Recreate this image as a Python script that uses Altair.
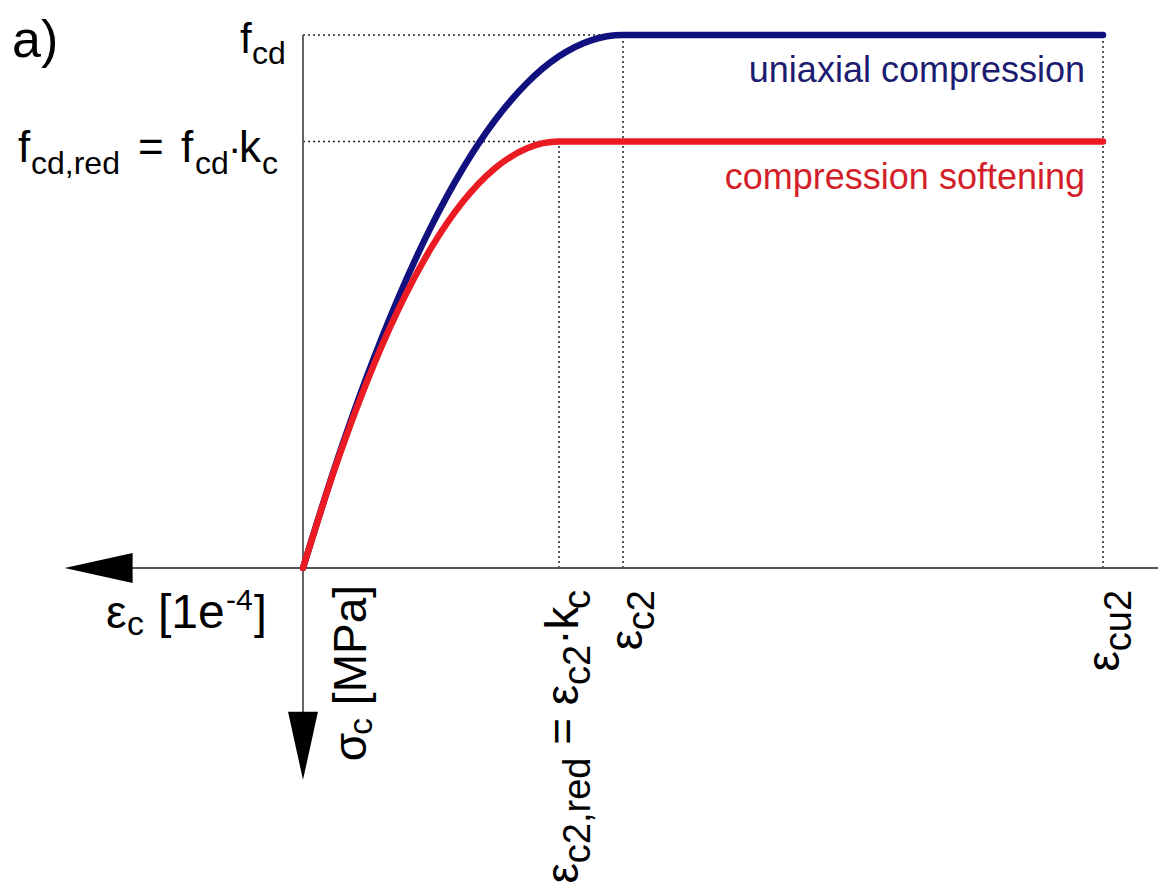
import altair as alt
import pandas as pd

# ---------------- values (schematic: strain in 1e-4, stress in MPa) ----------------
eps_c2 = 20.0
k_c = 0.8
eps_c2_red = 16.0          # = eps_c2 * k_c
eps_cu2 = 50.0
f_cd = 20.0
f_cd_red = 16.0            # = f_cd * k_c

uni_eps = [0, 2, 4, 6, 8, 10, 12, 14, 16, 18, 20, 50]
uni_sig = [0, 3.8, 7.2, 10.2, 12.8, 15.0, 16.8, 18.2, 19.2, 19.8, 20.0, 20.0]
soft_eps = [0, 2, 4, 6, 8, 10, 12, 14, 16, 50]
soft_sig = [0, 3.75, 7.0, 9.75, 12.0, 13.75, 15.0, 15.75, 16.0, 16.0]

strain_axis_tip = -14.9    # arrow tip of the (reversed) strain axis
stress_axis_tip = -7.95    # arrow tip of the (downward) stress axis

# ---------------- layout / style ----------------
BLUE = "#10107e"
BLUE_TXT = "#1c1c70"
RED = "#ea1b23"
RED_TXT = "#d31f29"
AXIS = "#555555"
FONT = "Liberation Sans"

W_PX, H_PX = 1150, 878
XS, YS = 16.0, 26.65                 # px per unit
XMIN = -295 / XS
XMAX = XMIN + W_PX / XS
YMAX = f_cd + 27 / YS
YMIN = YMAX - H_PX / YS

xs = alt.Scale(domain=[XMIN, XMAX], nice=False, zero=False)
ys = alt.Scale(domain=[YMIN, YMAX], nice=False, zero=False)

ADV = {' ': .278, '[': .278, ']': .278, '1': .556, '2': .556, '4': .556, '-': .333,
       '=': .584, '·': .278, 'a': .556, 'c': .5, 'd': .556, 'e': .556, 'f': .278,
       'k': .5, 'M': .833, 'P': .667, 'r': .333, 'u': .556, ',': .278, 'ε': .44, 'σ': .57}


def adv(t, s):
    return sum(ADV.get(ch, .55) for ch in t) * s


rows = []


def place(ax, ay, sx, sy, text, size, color="#000000", angle=0):
    rows.append(dict(x=ax + sx / XS, y=ay - sy / YS, text=text, size=size,
                     angle=angle, color=color))


def run_up(ax, ay, base_sx, top_sy, pieces, color="#000000"):
    total = sum(adv(t, s) for t, s, _ in pieces)
    y = top_sy + total
    for t, s, sh in pieces:
        lead = len(t) - len(t.lstrip())
        place(ax, ay, base_sx + sh, y - lead * ADV[' '] * s, t.strip(), s, color, 270)
        y -= adv(t, s)


# panel letter
place(0, f_cd, -291, 22, "a)", 52)
# f_cd
place(0, f_cd, -63, 18, "f", 42)
place(0, f_cd, -51, 29, "cd", 32)
# f_cd,red = f_cd·k_c
place(0, f_cd_red, -285, 20, "f", 44)
place(0, f_cd_red, -272, 32, "cd,red", 32)
place(0, f_cd_red, -165, 20, "=", 44)
place(0, f_cd_red, -122, 20, "f", 44)
place(0, f_cd_red, -108, 32, "cd", 32)
place(0, f_cd_red, -75, 20, "·", 40)
place(0, f_cd_red, -64, 20, "k", 44)
place(0, f_cd_red, -41, 32, "c", 32)
# strain axis label
place(0, 0, -197, 60, "ε", 46)
place(0, 0, -176, 67, "c", 34)
place(0, 0, -145, 60, "[1e", 48)
place(0, 0, -77, 42, "-4", 30)
place(0, 0, -49, 60, "]", 46)
# stress axis label (rotated)
run_up(0, 0, 63, 17, [("σ", 46, 0), ("c", 34, 6), (" [MPa]", 46, 0)])
# strain tick labels (rotated)
run_up(eps_c2_red, 0, 19, 22, [("ε", 46, 0), ("c2,red", 38, 12), (" = ε", 46, 0),
                               ("c2", 38, 12), ("·k", 46, 0), ("c", 38, 12)])
run_up(eps_c2, 0, 19, 22, [("ε", 46, 0), ("c2", 38, 12)])
run_up(eps_cu2, 0, 16, 22, [("ε", 46, 0), ("cu2", 38, 12)])

legend_rows = [
    dict(x=eps_cu2 - 18 / XS, y=f_cd - 47 / YS, text="uniaxial compression", color=BLUE_TXT),
    dict(x=eps_cu2 - 18 / XS, y=f_cd_red - 47 / YS, text="compression softening", color=RED_TXT),
]

# ---------------- marks ----------------
guides = pd.DataFrame([
    dict(x=0, x2=eps_c2, y=f_cd, y2=f_cd),
    dict(x=0, x2=eps_c2_red, y=f_cd_red, y2=f_cd_red),
    dict(x=eps_c2_red, x2=eps_c2_red, y=0, y2=f_cd_red),
    dict(x=eps_c2, x2=eps_c2, y=0, y2=f_cd),
    dict(x=eps_cu2, x2=eps_cu2, y=0, y2=f_cd),
])
x_arrow_c = strain_axis_tip + 34 / XS
y_arrow_c = stress_axis_tip + 34 / YS
axes_df = pd.DataFrame([
    dict(x=x_arrow_c, x2=XMAX, y=0, y2=0),
    dict(x=0, x2=0, y=f_cd, y2=y_arrow_c),
])

enc_rule = dict(
    x=alt.X("x:Q", scale=xs, axis=None), x2="x2:Q",
    y=alt.Y("y:Q", scale=ys, axis=None), y2="y2:Q",
)

guide_layer = alt.Chart(guides).mark_rule(
    color="#222222", strokeWidth=1.5, strokeDash=[2, 3]).encode(**enc_rule)
axis_layer = alt.Chart(axes_df).mark_rule(color=AXIS, strokeWidth=1.8).encode(**enc_rule)

arrow_left = alt.Chart(pd.DataFrame([dict(x=x_arrow_c, y=0)])).mark_point(
    shape="M-1,0L1,-0.44L1,0.44Z", filled=True, size=4624, color="#000000", opacity=1
).encode(x=alt.X("x:Q", scale=xs, axis=None), y=alt.Y("y:Q", scale=ys, axis=None))
arrow_down = alt.Chart(pd.DataFrame([dict(x=0, y=y_arrow_c)])).mark_point(
    shape="M0,1L-0.44,-1L0.44,-1Z", filled=True, size=4624, color="#000000", opacity=1
).encode(x=alt.X("x:Q", scale=xs, axis=None), y=alt.Y("y:Q", scale=ys, axis=None))

blue = alt.Chart(pd.DataFrame(dict(e=uni_eps, s=uni_sig))).mark_line(
    color=BLUE, strokeWidth=6.5, strokeCap="round", interpolate="monotone"
).encode(x=alt.X("e:Q", scale=xs, axis=None), y=alt.Y("s:Q", scale=ys, axis=None))
red = alt.Chart(pd.DataFrame(dict(e=soft_eps, s=soft_sig))).mark_line(
    color=RED, strokeWidth=6.5, strokeCap="round", interpolate="monotone"
).encode(x=alt.X("e:Q", scale=xs, axis=None), y=alt.Y("s:Q", scale=ys, axis=None))

texts = alt.Chart(pd.DataFrame(rows)).mark_text(
    align="left", baseline="alphabetic", font=FONT
).encode(
    x=alt.X("x:Q", scale=xs, axis=None),
    y=alt.Y("y:Q", scale=ys, axis=None),
    text="text:N",
    size=alt.Size("size:Q", scale=None),
    angle=alt.Angle("angle:Q", scale=None),
    color=alt.Color("color:N", scale=None),
)
legend = alt.Chart(pd.DataFrame(legend_rows)).mark_text(
    align="right", baseline="alphabetic", font=FONT, fontSize=36
).encode(
    x=alt.X("x:Q", scale=xs, axis=None),
    y=alt.Y("y:Q", scale=ys, axis=None),
    text="text:N",
    color=alt.Color("color:N", scale=None),
)

chart = alt.layer(
    guide_layer, axis_layer, arrow_left, arrow_down, blue, red, texts, legend
).properties(
    width=W_PX, height=H_PX, padding=0,
    autosize=alt.AutoSizeParams(type="none"),
    background="white",
).configure_view(stroke=None)

chart.save("out.html", embed_options={"renderer": "svg", "actions": False})
